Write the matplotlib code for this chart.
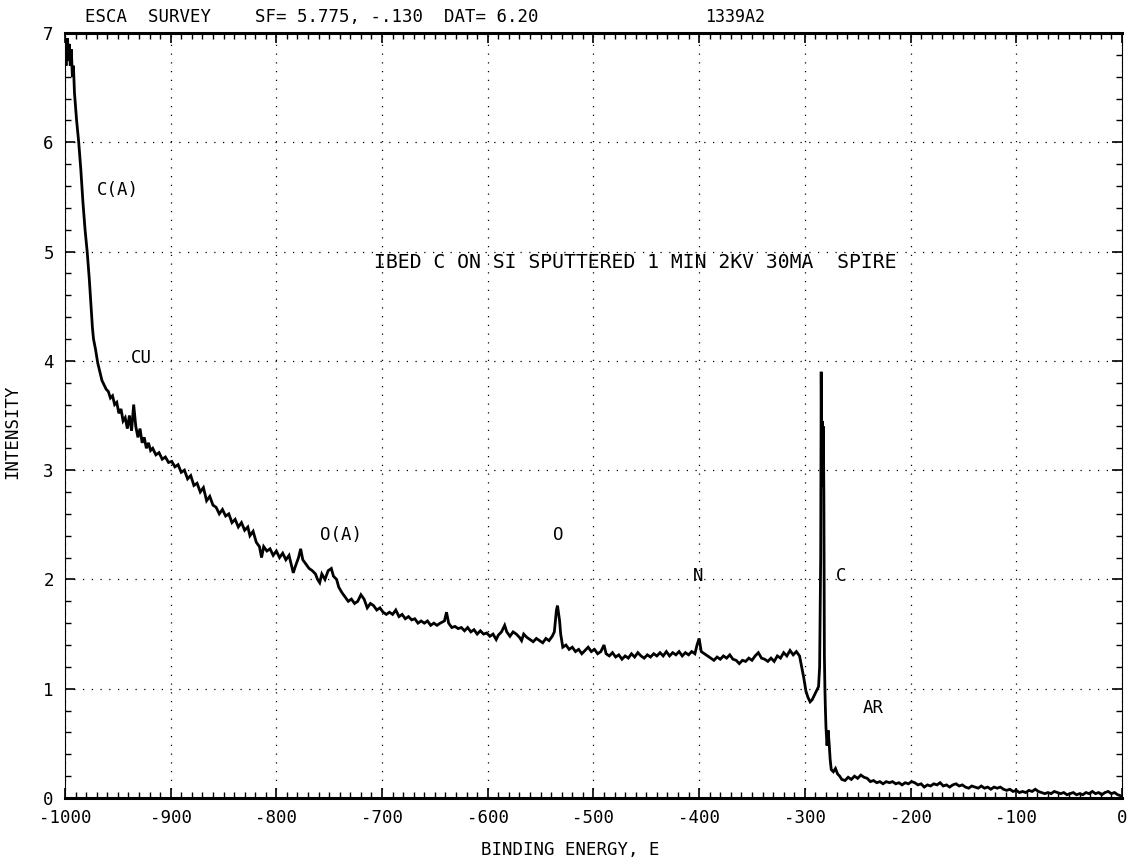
import matplotlib
matplotlib.use('Agg')
import matplotlib.pyplot as plt
from matplotlib.ticker import MultipleLocator

# ESCA survey spectrum in pieces (binding energy, intensity)
c_auger_edge = [
    (-1000, 6.75), (-999.5, 6.95), (-999, 6.7), (-998.5, 6.9), (-998, 6.8),
    (-997.5, 6.95), (-997, 6.75), (-996, 6.9), (-995, 6.7), (-994, 6.85),
    (-993, 6.6), (-992, 6.7), (-991, 6.45), (-989, 6.2), (-987, 6.0),
    (-985, 5.75), (-983, 5.45), (-981, 5.2), (-979, 5.0), (-977, 4.75),
    (-975, 4.45), (-974, 4.3), (-973, 4.2), (-971, 4.1), (-969, 3.98),
]
cu_region = [
    (-967, 3.9), (-965, 3.82), (-963, 3.78), (-961, 3.74), (-959, 3.72),
    (-957, 3.66), (-955, 3.68), (-953, 3.6), (-951, 3.62), (-949, 3.52),
    (-947, 3.56), (-945, 3.45), (-943, 3.48), (-941, 3.38), (-939, 3.5),
    (-937, 3.36), (-935, 3.6), (-933, 3.4), (-931, 3.3), (-929, 3.38),
    (-927, 3.25), (-925, 3.3), (-923, 3.2), (-921, 3.25), (-919, 3.18),
    (-917, 3.2), (-914, 3.14), (-911, 3.16), (-908, 3.1), (-905, 3.12),
    (-902, 3.07), (-899, 3.08), (-896, 3.03), (-893, 3.05), (-890, 2.98),
    (-887, 3.0), (-884, 2.92), (-881, 2.95), (-878, 2.86), (-875, 2.88),
    (-872, 2.8), (-869, 2.84), (-866, 2.72), (-863, 2.76), (-860, 2.68),
    (-857, 2.66), (-854, 2.6), (-851, 2.64), (-848, 2.58), (-845, 2.6),
    (-842, 2.52), (-839, 2.55), (-836, 2.48), (-833, 2.52), (-830, 2.45),
    (-827, 2.48), (-825, 2.4), (-822, 2.44),
]
o_auger_region = [
    (-819, 2.34), (-816, 2.3), (-814, 2.2), (-812, 2.3), (-809, 2.26),
    (-806, 2.28), (-803, 2.22), (-800, 2.26), (-797, 2.2), (-794, 2.24),
    (-791, 2.18), (-788, 2.22), (-786, 2.14), (-784, 2.06), (-782, 2.12),
    (-779, 2.2), (-777, 2.28), (-775, 2.18), (-772, 2.14), (-769, 2.1),
    (-766, 2.08), (-763, 2.05), (-761, 2.0), (-759, 1.97), (-757, 2.05),
    (-754, 2.0), (-751, 2.08), (-748, 2.1), (-746, 2.03), (-743, 2.0),
    (-741, 1.93), (-738, 1.88), (-735, 1.84), (-732, 1.8), (-729, 1.82),
    (-726, 1.78), (-723, 1.8), (-720, 1.86), (-717, 1.82), (-714, 1.74),
    (-711, 1.78), (-708, 1.76), (-705, 1.72), (-702, 1.74), (-699, 1.7),
    (-696, 1.68), (-693, 1.7), (-690, 1.68), (-687, 1.72), (-684, 1.66),
    (-681, 1.68), (-678, 1.64), (-675, 1.66), (-672, 1.63), (-669, 1.64),
    (-666, 1.6), (-663, 1.62), (-660, 1.6), (-657, 1.62), (-654, 1.58),
    (-651, 1.6), (-648, 1.58), (-645, 1.6), (-641, 1.62), (-639, 1.7),
    (-637, 1.6), (-634, 1.56), (-631, 1.57), (-628, 1.55), (-625, 1.56),
    (-622, 1.53), (-619, 1.56), (-616, 1.52), (-613, 1.54), (-610, 1.5),
    (-607, 1.53), (-604, 1.5), (-601, 1.51), (-598, 1.48), (-595, 1.5),
    (-592, 1.45), (-590, 1.49), (-587, 1.52), (-584, 1.58), (-582, 1.52),
    (-579, 1.48), (-576, 1.52), (-573, 1.5), (-570, 1.47), (-568, 1.44),
    (-566, 1.5), (-563, 1.47), (-560, 1.45), (-557, 1.43), (-554, 1.46),
    (-551, 1.44), (-548, 1.42), (-545, 1.46), (-542, 1.44), (-539, 1.48),
]
o1s_region = [
    (-537, 1.52), (-535, 1.72), (-534, 1.76), (-532, 1.62), (-531, 1.5),
    (-529, 1.38), (-526, 1.4), (-523, 1.36), (-520, 1.38), (-517, 1.34),
    (-514, 1.36), (-511, 1.32), (-508, 1.35), (-505, 1.38), (-502, 1.34),
    (-499, 1.36), (-496, 1.32), (-493, 1.34), (-490, 1.4), (-488, 1.32),
    (-485, 1.3), (-482, 1.33), (-479, 1.29), (-476, 1.31), (-473, 1.27),
    (-470, 1.3), (-467, 1.28), (-464, 1.32), (-461, 1.29), (-458, 1.33),
    (-455, 1.3), (-452, 1.28), (-449, 1.31), (-446, 1.29), (-443, 1.32),
    (-440, 1.3), (-437, 1.33), (-434, 1.3), (-431, 1.34), (-428, 1.3),
    (-425, 1.33), (-422, 1.31), (-419, 1.34), (-416, 1.3), (-413, 1.33),
    (-410, 1.31), (-407, 1.34), (-404, 1.32),
]
n1s_region = [
    (-402, 1.4), (-400, 1.46), (-398, 1.34), (-395, 1.32), (-392, 1.3),
    (-389, 1.28), (-386, 1.26), (-383, 1.29), (-380, 1.27), (-377, 1.3),
    (-374, 1.28), (-371, 1.31), (-368, 1.27), (-365, 1.26), (-362, 1.23),
    (-359, 1.26), (-356, 1.25), (-353, 1.28), (-350, 1.26), (-347, 1.3),
    (-344, 1.33), (-341, 1.28), (-338, 1.27), (-335, 1.25), (-332, 1.28),
    (-329, 1.25), (-326, 1.3), (-323, 1.28), (-320, 1.33), (-317, 1.3),
    (-314, 1.35), (-311, 1.31), (-308, 1.34), (-305, 1.3),
]
c1s_region = [
    (-303, 1.2), (-301, 1.1), (-299, 0.98), (-297, 0.92), (-295, 0.88),
    (-293, 0.9), (-291, 0.94), (-289, 0.98), (-287, 1.02), (-286, 1.2),
    (-285, 2.2), (-284.5, 3.9), (-284, 3.0), (-283.5, 3.45), (-283, 2.85),
    (-282.5, 3.4), (-282, 2.8), (-281.5, 1.3), (-281, 1.0), (-280.5, 0.8),
    (-280, 0.65), (-279, 0.48), (-278, 0.62), (-277, 0.5), (-276, 0.35),
    (-275, 0.26),
]
low_be_tail = [
    (-273, 0.24), (-271, 0.27), (-269, 0.22), (-267, 0.2), (-265, 0.17),
    (-262, 0.16), (-259, 0.19), (-256, 0.17), (-253, 0.2), (-250, 0.18),
    (-247, 0.21), (-244, 0.19), (-241, 0.18), (-238, 0.15), (-235, 0.16),
    (-232, 0.14), (-229, 0.15), (-226, 0.13), (-223, 0.15), (-220, 0.14),
    (-217, 0.15), (-214, 0.13), (-211, 0.14), (-208, 0.12), (-205, 0.14),
    (-202, 0.13), (-199, 0.15), (-196, 0.14), (-193, 0.12), (-190, 0.13),
    (-187, 0.1), (-184, 0.12), (-181, 0.11), (-178, 0.13), (-175, 0.12),
    (-172, 0.14), (-169, 0.11), (-166, 0.12), (-163, 0.1), (-160, 0.12),
    (-157, 0.13), (-154, 0.11), (-151, 0.12), (-148, 0.1), (-145, 0.09),
    (-142, 0.11), (-139, 0.1), (-136, 0.09), (-133, 0.11), (-130, 0.09),
    (-127, 0.1), (-124, 0.08), (-121, 0.1), (-118, 0.09), (-115, 0.1),
    (-112, 0.08), (-109, 0.07), (-106, 0.08), (-103, 0.06), (-100, 0.07),
    (-97, 0.05), (-94, 0.06), (-91, 0.05), (-88, 0.07), (-85, 0.06),
    (-82, 0.08), (-79, 0.06), (-76, 0.05), (-73, 0.04), (-70, 0.05),
    (-67, 0.04), (-64, 0.06), (-61, 0.05), (-58, 0.04), (-55, 0.05),
    (-52, 0.03), (-49, 0.04), (-46, 0.05), (-43, 0.03), (-40, 0.04),
    (-37, 0.03), (-34, 0.05), (-31, 0.04), (-28, 0.06), (-25, 0.04),
    (-22, 0.05), (-19, 0.03), (-16, 0.05), (-13, 0.06), (-10, 0.04),
    (-7, 0.05), (-4, 0.03), (-1, 0.02), (0, 0.0),
]

peak_labels = ['C(A)', 'CU', 'O(A)', 'O', 'N', 'C', 'AR']
peak_x = [-970, -938, -759, -538, -406, -271, -245]
peak_y = [5.56, 4.03, 2.41, 2.41, 2.03, 2.03, 0.82]

x_ticks = list(range(-1000, 1, 100))
y_ticks = list(range(0, 8))

MONO = 'DejaVu Sans Mono'

segments = [c_auger_edge, cu_region, o_auger_region, o1s_region,
            n1s_region, c1s_region, low_be_tail]
pts = [p for seg in segments for p in seg]
energy = [p[0] for p in pts]
intensity = [p[1] for p in pts]

fig = plt.figure(figsize=(11.28, 8.63), dpi=100)
ax = fig.add_axes([0.0576, 0.0753, 0.937, 0.8865])

ax.plot(energy, intensity, color='black', lw=2.0, solid_joinstyle='miter')

ax.set_xlim(-1000, 0)
ax.set_ylim(0, 7)
ax.set_xticks(x_ticks)
ax.set_xticklabels([str(v) for v in x_ticks], family=MONO, fontsize=12.5)
ax.set_yticks(y_ticks)
ax.set_yticklabels([str(v) for v in y_ticks], family=MONO, fontsize=12.5)
ax.xaxis.set_minor_locator(MultipleLocator(10))
ax.yaxis.set_minor_locator(MultipleLocator(0.2))
ax.tick_params(which='major', direction='in', length=7, width=1.2,
               top=True, right=True, pad=8)
ax.tick_params(which='minor', direction='in', length=4, width=1.0,
               top=True, right=True)

ax.grid(True, which='major', color='black', lw=0.9, linestyle=(0, (1, 6)))

for side in ('top', 'bottom'):
    ax.spines[side].set_linewidth(2.2)
for side in ('left', 'right'):
    ax.spines[side].set_linewidth(0.8)

for lab, px, py in zip(peak_labels, peak_x, peak_y):
    ax.text(px, py, lab, family=MONO, fontsize=12.5, ha='left', va='center')

ax.text(-460, 4.9, 'IBED C ON SI SPUTTERED 1 MIN 2KV 30MA  SPIRE',
        family=MONO, fontsize=14.2, ha='center', va='center')

# header line above the frame
fig.text(85 / 1128, 1 - 17 / 863, 'ESCA  SURVEY', family=MONO, fontsize=12.5,
         va='center')
fig.text(255 / 1128, 1 - 17 / 863, 'SF= 5.775, -.130  DAT= 6.20',
         family=MONO, fontsize=12.5, va='center')
fig.text(705 / 1128, 1 - 17 / 863, '1339A2', family=MONO, fontsize=12,
         va='center')

fig.text(570 / 1128, 1 - 850 / 863, 'BINDING ENERGY, E', family=MONO,
         fontsize=12.5, ha='center', va='center')
fig.text(12 / 1128, 0.5, 'INTENSITY', family=MONO, fontsize=12.5,
         rotation=90, ha='center', va='center')

fig.savefig('out.png', dpi=100)
